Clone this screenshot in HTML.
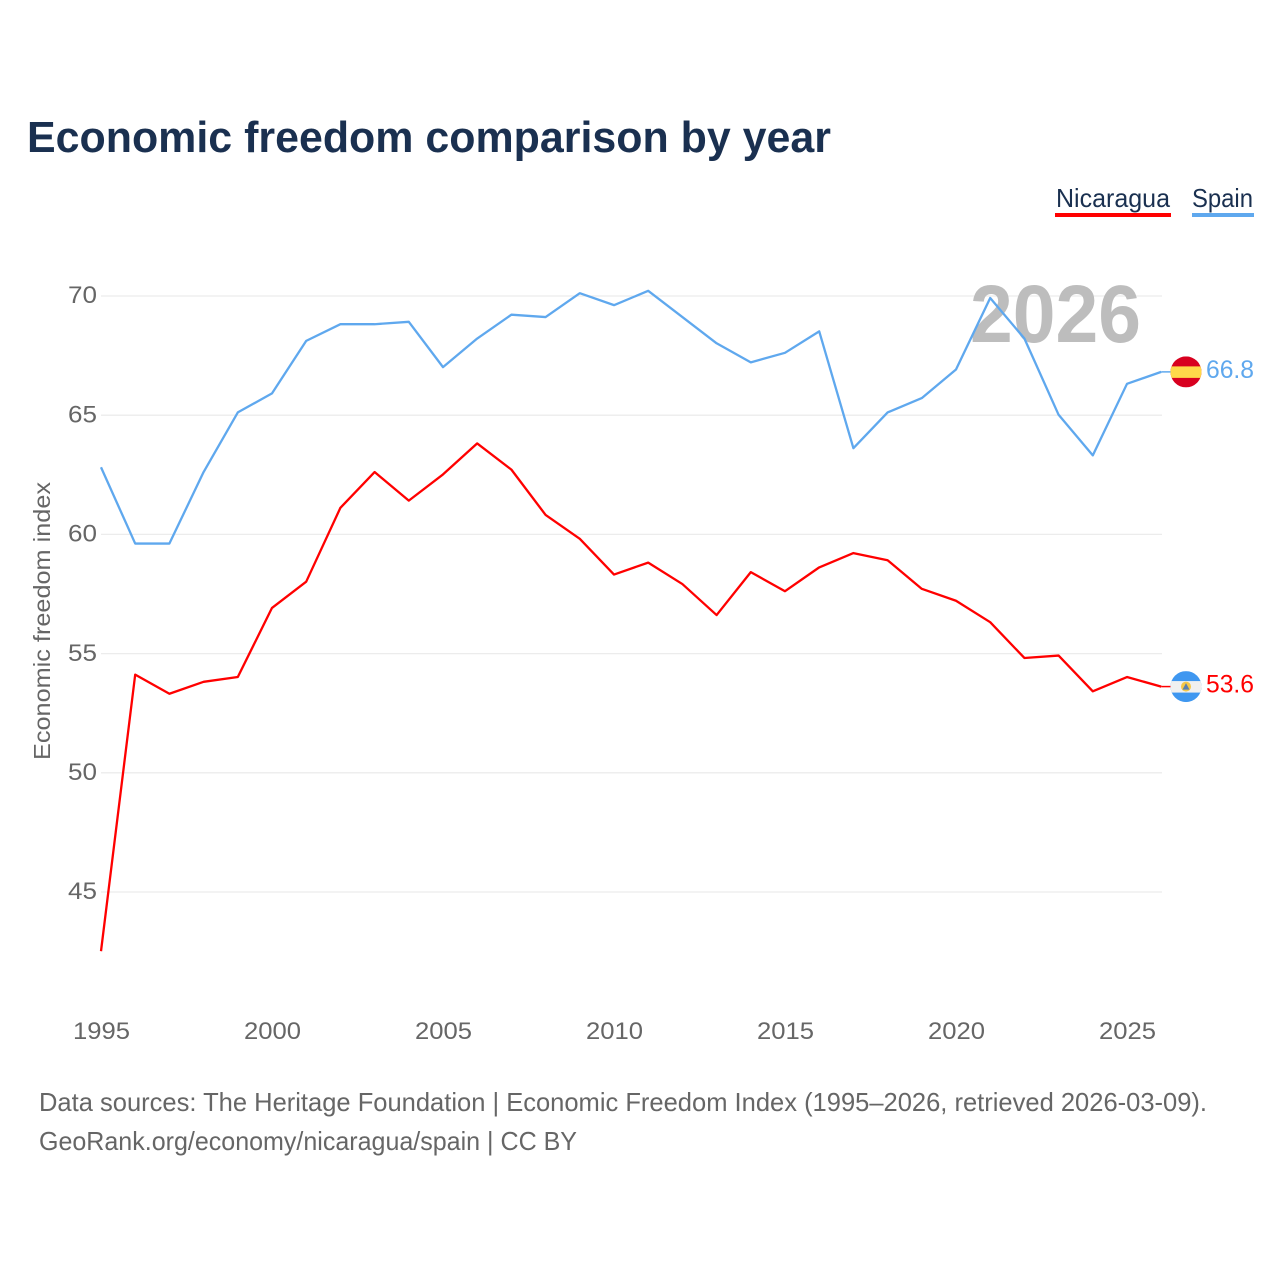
<!DOCTYPE html>
<html lang="en">
<head>
<meta charset="utf-8">
<title>Economic freedom comparison by year</title>
<style>
html,body{margin:0;padding:0;background:#fff;width:1280px;height:1280px;overflow:hidden}
svg{display:block}
text{font-family:"Liberation Sans",sans-serif}
</style>
</head>
<body>
<svg id="chart" width="1280" height="1280" viewBox="0 0 1280 1280" xmlns="http://www.w3.org/2000/svg">
  <rect width="1280" height="1280" fill="#fff"/>
  <text x="27" y="152" font-size="44" font-weight="700" fill="#1a3050" textLength="804" lengthAdjust="spacingAndGlyphs">Economic freedom comparison by year</text>
  <g id="grid"></g>
  <g id="yticks"></g>
  <g id="xticks"></g>
  <text x="970" y="342" font-size="82" font-weight="700" fill="#bdbdbd" textLength="171" lengthAdjust="spacingAndGlyphs">2026</text>
  <text transform="translate(50,760) rotate(-90)" font-size="23" fill="#666" textLength="278" lengthAdjust="spacingAndGlyphs">Economic freedom index</text>
  <g id="series"></g>

  <g>
    <text x="1056" y="207" font-size="26" fill="#1a3050" textLength="114" lengthAdjust="spacingAndGlyphs">Nicaragua</text>
    <rect x="1055" y="213" width="116" height="4" fill="#ff0000"/>
  </g>
  <g>
    <text x="1192" y="207" font-size="26" fill="#1a3050" textLength="61" lengthAdjust="spacingAndGlyphs">Spain</text>
    <rect x="1192" y="213" width="62" height="4" fill="#5fa8ee"/>
  </g>

  <defs>
    <clipPath id="flag-clip-es"><circle cx="1186" cy="371.500" r="15.500"/></clipPath>
    <clipPath id="flag-clip-ni"><circle cx="1186" cy="686.500" r="15.500"/></clipPath>
  </defs>
  <g id="flag-spain" clip-path="url(#flag-clip-es)">
    <rect x="1170" y="356" width="32" height="31" fill="#d8001f"/>
    <rect x="1170" y="366" width="32" height="11.500" fill="#ffd84a"/>
  </g>
  <g id="flag-nicaragua" clip-path="url(#flag-clip-ni)">
    <rect x="1170" y="671" width="32" height="31" fill="#3f97f0"/>
    <rect x="1170" y="681" width="32" height="11.500" fill="#f0f0f0"/>
    <circle cx="1186" cy="686.500" r="5" fill="#f5c84a"/>
    <polygon points="1186,683 1189.500,689.500 1182.500,689.500" fill="#5a7fb0"/>
  </g>

  <text x="39" y="1111" font-size="26" fill="#666" textLength="1168" lengthAdjust="spacingAndGlyphs">Data sources: The Heritage Foundation | Economic Freedom Index (1995–2026, retrieved 2026-03-09).</text>
  <text x="39" y="1150" font-size="26" fill="#666" textLength="538" lengthAdjust="spacingAndGlyphs">GeoRank.org/economy/nicaragua/spain | CC BY</text>
</svg>
<script>
const years = [1995,1996,1997,1998,1999,2000,2001,2002,2003,2004,2005,2006,2007,2008,2009,2010,2011,2012,2013,2014,2015,2016,2017,2018,2019,2020,2021,2022,2023,2024,2025,2026];
const spainValues = [62.8,59.6,59.6,62.6,65.1,65.9,68.1,68.8,68.8,68.9,67.0,68.2,69.2,69.1,70.1,69.6,70.2,69.1,68.0,67.2,67.6,68.5,63.6,65.1,65.7,66.9,69.9,68.2,65.0,63.3,66.3,66.8];
const nicaraguaValues = [42.5,54.1,53.3,53.8,54.0,56.9,58.0,61.1,62.6,61.4,62.5,63.8,62.7,60.8,59.8,58.3,58.8,57.9,56.6,58.4,57.6,58.6,59.2,58.9,57.7,57.2,56.3,54.8,54.9,53.4,54.0,53.6];
const yTickValues = [45,50,55,60,65,70];
const xTickValues = [1995,2000,2005,2010,2015,2020,2025];

const NS = 'http://www.w3.org/2000/svg';
const xScale = y => 101 + (y - 1995) * 34.2;
const yScale = v => 295.6 + (70 - v) * 23.84;

function make(tag, attrs, parent, content) {
  const el = document.createElementNS(NS, tag);
  for (const k in attrs) el.setAttribute(k, attrs[k]);
  if (content !== undefined) el.textContent = content;
  parent.appendChild(el);
  return el;
}

const grid = document.getElementById('grid');
const yticks = document.getElementById('yticks');
yTickValues.forEach(v => {
  const line = make('line', {x1: 101, x2: 1162, y1: yScale(v) + 0.4, y2: yScale(v) + 0.4, stroke: '#ececec', 'stroke-width': 1.3}, grid);
  
  
  const label = make('text', {x: 97, y: yScale(v) + 7.6, 'text-anchor': 'end', 'font-size': 24.5, fill: '#666', textLength: 29, lengthAdjust: 'spacingAndGlyphs'}, yticks, String(v));
  
  
});

const xticks = document.getElementById('xticks');
xTickValues.forEach(y => {
  const label = make('text', {x: xScale(y) + 0.5, y: 1039, 'text-anchor': 'middle', 'font-size': 24, fill: '#666', textLength: 57, lengthAdjust: 'spacingAndGlyphs'}, xticks, String(y));
  
  
});

const seriesGroup = document.getElementById('series');
function pathFor(values) {
  return values.map((v, i) => (i ? 'L' : 'M') + xScale(years[i]).toFixed(2) + ' ' + yScale(v).toFixed(2)).join(' ');
}
function drawSeries(name, values, color, flagId) {
  const line = make('path', {d: pathFor(values), fill: 'none', stroke: color, 'stroke-width': 2.3, 'stroke-linejoin': 'round'}, seriesGroup);
  
  
  const last = values[values.length - 1];
  const lastX = xScale(years[years.length - 1]);
  const lastY = yScale(last);
  const conn = make('line', {x1: lastX, x2: 1172, y1: lastY, y2: lastY, stroke: color, 'stroke-width': 1.5}, seriesGroup);
  
  
  const label = make('text', {x: 1254, y: lastY + 6, 'text-anchor': 'end', 'font-size': 25, fill: color, textLength: 48, lengthAdjust: 'spacingAndGlyphs'}, seriesGroup, last.toFixed(1));
  
  
  const flag = document.getElementById(flagId);
  flag.setAttribute('transform', 'translate(0,' + (lastY - (flagId === 'flag-spain' ? 371.5 : 686.5)) + ')');
}
drawSeries('nicaragua', nicaraguaValues, '#ff0000', 'flag-nicaragua');
drawSeries('spain', spainValues, '#5fa8ee', 'flag-spain');
</script>
</body>
</html>
